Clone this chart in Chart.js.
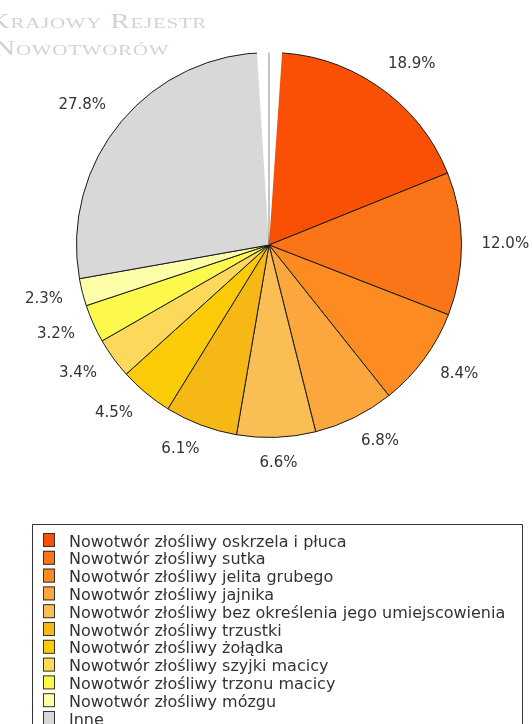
<!DOCTYPE html>
<html>
<head>
<meta charset="utf-8">
<script src="https://cdn.jsdelivr.net/npm/chart.js@4"></script>
<style>
  html, body { margin: 0; padding: 0; background: #ffffff; }
  #c { display: block; }
</style>
</head>
<body>
<canvas id="c" width="532" height="724"></canvas>
<script>
// ---- data ----
const categories = [
  'Nowotwór złośliwy oskrzela i płuca',
  'Nowotwór złośliwy sutka',
  'Nowotwór złośliwy jelita grubego',
  'Nowotwór złośliwy jajnika',
  'Nowotwór złośliwy bez określenia jego umiejscowienia',
  'Nowotwór złośliwy trzustki',
  'Nowotwór złośliwy żołądka',
  'Nowotwór złośliwy szyjki macicy',
  'Nowotwór złośliwy trzonu macicy',
  'Nowotwór złośliwy mózgu',
  'Inne'
];
const values = [18.9, 12.0, 8.4, 6.8, 6.6, 6.1, 4.5, 3.4, 3.2, 2.3, 27.8];
const sliceColors = [
  '#F95005', '#FC7418', '#FC8C22', '#FCA73E', '#FBBE55', '#F6B814',
  '#FBCB08', '#FCD95A', '#FDF94C', '#FFFEA8', '#D8D8D8'
];
const watermarkLines = ['Krajowy Rejestr', 'Nowotworów'];

// ---- plugins ----
const watermarkPlugin = {
  id: 'watermark',
  beforeDraw(chart) {
    const ctx = chart.ctx;
    ctx.save();
    ctx.fillStyle = '#d2d2d2';
    ctx.font = 'small-caps 21px "Liberation Serif", "DejaVu Serif", serif';
    ctx.textAlign = 'left';
    ctx.textBaseline = 'alphabetic';
    if ('letterSpacing' in ctx) ctx.letterSpacing = '0.5px';
    ctx.save();
    ctx.translate(-11.5, 28);
    ctx.scale(1.4, 1);
    ctx.fillText(watermarkLines[0], 0, 0);
    ctx.restore();
    ctx.save();
    ctx.translate(-6, 55);
    ctx.scale(1.4, 1);
    ctx.fillText(watermarkLines[1], 0, 0);
    ctx.restore();
    ctx.restore();
  }
};

const gapPlugin = {
  id: 'topGap',
  afterDatasetsDraw(chart) {
    const arc = chart.getDatasetMeta(0).data[0];
    if (!arc) return;
    const ctx = chart.ctx;
    const cx = arc.x, cy = arc.y, r = arc.outerRadius;
    const top = -Math.PI / 2;
    const a0 = top - 3.6 * Math.PI / 180;
    const a1 = top + 3.9 * Math.PI / 180;
    ctx.save();
    ctx.beginPath();
    ctx.moveTo(cx, cy);
    ctx.arc(cx, cy, r + 1.5, a0, a1);
    ctx.closePath();
    ctx.fillStyle = '#ffffff';
    ctx.fill();
    ctx.beginPath();
    ctx.moveTo(cx, cy);
    ctx.lineTo(cx, cy - r);
    ctx.strokeStyle = '#8a8a8a';
    ctx.lineWidth = 1;
    ctx.stroke();
    ctx.restore();
  }
};

const sliceLabelPlugin = {
  id: 'sliceLabels',
  afterDatasetsDraw(chart) {
    const meta = chart.getDatasetMeta(0);
    const ds = chart.data.datasets[0];
    const ctx = chart.ctx;
    ctx.save();
    ctx.font = '15px "DejaVu Sans", sans-serif';
    ctx.fillStyle = '#333333';
    ctx.textAlign = 'center';
    ctx.textBaseline = 'middle';
    meta.data.forEach((arc, i) => {
      const mid = (arc.startAngle + arc.endAngle) / 2;
      const R = arc.outerRadius + 20;
      const txt = ds.data[i].toFixed(1) + '%';
      const w = ctx.measureText(txt).width;
      const c = Math.cos(mid), s = Math.sin(mid);
      let x = arc.x + R * c + (w / 2) * Math.sign(c) * Math.min(1, 2 * Math.abs(c));
      let y = arc.y + R * s + 6 * s;
      x = Math.min(x, chart.width - w / 2 - 2);
      ctx.fillText(txt, x, y);
    });
    ctx.restore();
  }
};

const legendPlugin = {
  id: 'boxLegend',
  afterDraw(chart) {
    const ctx = chart.ctx;
    const ds = chart.data.datasets[0];
    const left = 32.5, top = 524.5, right = 522.5;
    const rowH = 17.8;
    ctx.save();
    ctx.strokeStyle = '#333333';
    ctx.lineWidth = 1;
    ctx.beginPath();
    ctx.moveTo(left, chart.height + 2);
    ctx.lineTo(left, top);
    ctx.lineTo(right, top);
    ctx.lineTo(right, chart.height + 2);
    ctx.stroke();
    ctx.font = '16px "DejaVu Sans", sans-serif';
    ctx.textAlign = 'left';
    ctx.textBaseline = 'alphabetic';
    chart.data.labels.forEach((lab, i) => {
      const y0 = 533 + i * rowH;
      ctx.fillStyle = ds.backgroundColor[i];
      ctx.fillRect(43, y0, 12, 14);
      ctx.strokeStyle = '#333333';
      ctx.strokeRect(43.5, y0 + 0.5, 11, 13);
      ctx.fillStyle = '#333333';
      ctx.fillText(lab, 69, y0 + 13.5);
    });
    ctx.restore();
  }
};

new Chart(document.getElementById('c'), {
  type: 'pie',
  data: {
    labels: categories,
    datasets: [{
      data: values,
      backgroundColor: sliceColors,
      borderColor: '#1a1a1a',
      borderWidth: 1
    }]
  },
  options: {
    responsive: false,
    animation: false,
    layout: { padding: { left: 76, right: 70, top: 52, bottom: 286 } },
    plugins: {
      legend: { display: false },
      tooltip: { enabled: false }
    }
  },
  plugins: [watermarkPlugin, gapPlugin, sliceLabelPlugin, legendPlugin]
});
</script>
</body>
</html>
